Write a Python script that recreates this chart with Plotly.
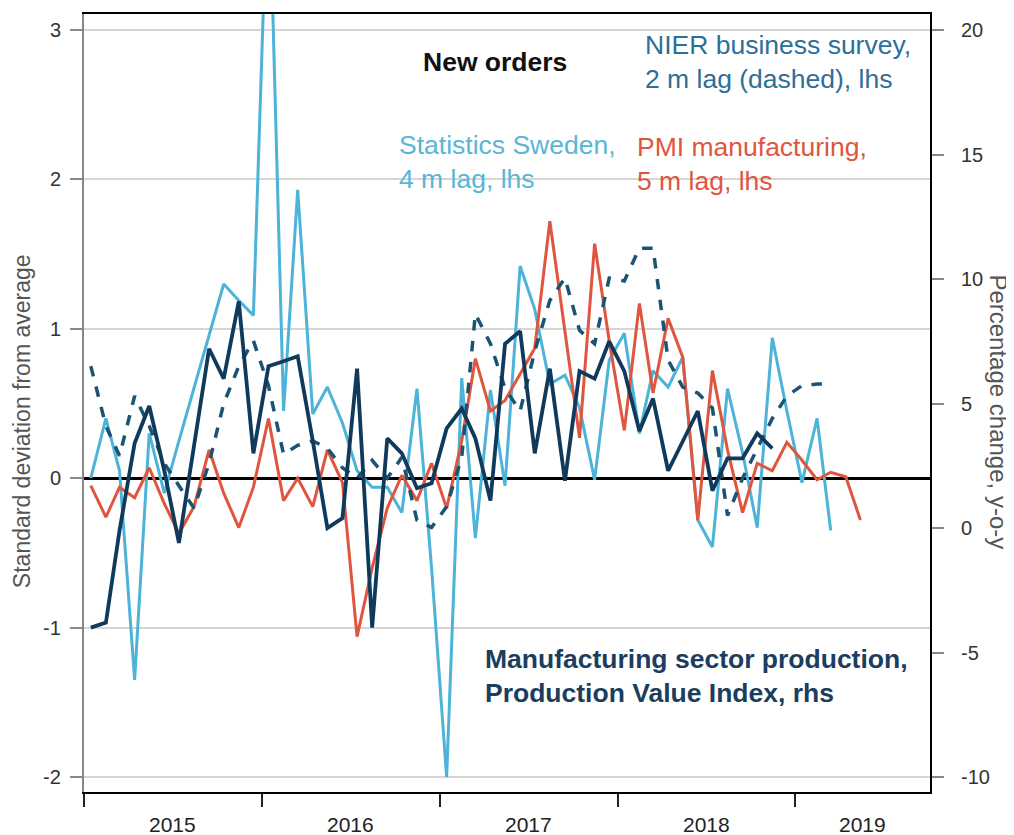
import pandas as pd
import plotly.graph_objects as go

# ---------------- data ----------------
start_month = "2015-01"
stats_sweden = [0.0, 0.4, 0.05, -1.35, 0.3, -0.1, 0.25, 0.6, 0.95, 1.3,
                1.19, 1.09, 4.2, 0.45, 1.93, 0.43, 0.61, 0.37, 0.05, -0.06,
                -0.06, -0.23, 0.6, -0.6, -2.0, 0.67, -0.4, 0.59, -0.05, 1.42,
                1.13, 0.63, 0.69, 0.47, -0.01, 0.79, 0.97, 0.3, 0.72, 0.61,
                0.81, -0.28, -0.46, 0.6, 0.17, -0.33, 0.94, 0.45, -0.03, 0.4, -0.35]
pmi = [-0.05, -0.26, -0.06, -0.13, 0.07, -0.17, -0.37, -0.19, 0.19, -0.1,
       -0.33, -0.06, 0.4, -0.15, 0.0, -0.19, 0.19, -0.03, -1.06, -0.6,
       -0.2, 0.02, -0.15, 0.1, -0.2, 0.25, 0.8, 0.45, 0.52, 0.7,
       0.87, 1.72, 1.0, 0.27, 1.57, 0.92, 0.32, 1.17, 0.57, 1.07,
       0.81, -0.28, 0.72, 0.19, -0.23, 0.1, 0.05, 0.24, 0.12, -0.01,
       0.04, 0.01, -0.28]
nier = [0.75, 0.35, 0.15, 0.55, 0.35, 0.1, -0.05, -0.2, 0.1, 0.5,
        0.75, 0.92, 0.62, 0.16, 0.22, 0.25, 0.2, 0.07, 0.0, 0.12,
        0.0, 0.14, -0.28, -0.33, -0.19, 0.14, 1.1, 0.9, 0.6, 0.45,
        0.85, 1.19, 1.34, 0.99, 0.9, 1.34, 1.32, 1.54, 1.54, 0.79,
        0.61, 0.57, 0.47, -0.25, 0.0, 0.2, 0.4, 0.55, 0.62, 0.63, 0.63]
production = [-4.0, -3.8, -0.1, 3.4, 4.9, 2.3, -0.6, 3.3, 7.2, 6.0,
              9.1, 3.0, 6.5, 6.7, 6.9, 3.5, 0.0, 0.4, 6.4, -4.0,
              3.6, 3.0, 1.6, 1.8, 4.0, 4.8, 3.6, 1.1, 7.4, 7.9,
              3.0, 6.4, 1.9, 6.3, 6.0, 7.5, 6.3, 3.9, 5.2, 2.3,
              3.5, 4.7, 1.5, 2.8, 2.8, 3.8, 3.2]
year_labels = ["2015", "2016", "2017", "2018", "2019"]
left_ticks = [-2, -1, 0, 1, 2, 3]
left_tick_text = ["-2", "-1", "0", "1", "2", "3"]
right_ticks = [-10, -5, 0, 5, 10, 15, 20]
right_tick_text = ["-10", "-5", "0", "5", "10", "15", "20"]


def months(n):
    return pd.date_range(start_month + "-01", periods=n, freq="MS") + pd.Timedelta(days=14)


C_LB = "#4db3d8"
C_RED = "#e0553e"
C_NAVY = "#0f3a5c"
C_DASH = "#1b5473"
FONT = "Liberation Sans, Arial, sans-serif"
TICK_FONT = dict(size=20, color="#333333")

fig = go.Figure()
fig.add_trace(go.Scatter(x=months(len(stats_sweden)), y=stats_sweden, mode="lines",
                         line=dict(color=C_LB, width=3), name="Statistics Sweden"))
fig.add_trace(go.Scatter(x=months(len(pmi)), y=pmi, mode="lines",
                         line=dict(color=C_RED, width=3), name="PMI"))
fig.add_trace(go.Scatter(x=months(len(nier)), y=nier, mode="lines",
                         line=dict(color=C_DASH, width=3.5, dash="dash"), name="NIER"))
fig.add_trace(go.Scatter(x=months(len(production)), y=production, mode="lines", yaxis="y2",
                         line=dict(color=C_NAVY, width=3.8), name="Production"))

x_start = pd.Timestamp("2015-01-01")
x_end = pd.Timestamp("2019-10-05")
year_starts = [pd.Timestamp(f"{y}-01-01") for y in year_labels]

left_range = [-2.1, 3.107]
right_range = [6 * left_range[0] + 2, 6 * left_range[1] + 2]

fig.update_layout(
    width=1006, height=827,
    margin=dict(l=76, r=84, t=6, b=43, autoexpand=False),
    paper_bgcolor="white", plot_bgcolor="white",
    showlegend=False,
    font=dict(family=FONT, color="#333333"),
    xaxis=dict(type="date", range=[x_start, x_end], showgrid=False,
               showline=True, linecolor="black", linewidth=2, mirror=True,
               ticks="outside", ticklen=13, tickwidth=2, tickcolor="#222222",
               tickvals=year_starts, showticklabels=False, zeroline=False),
    yaxis=dict(range=left_range, tickvals=left_ticks, showticklabels=False, showgrid=True,
               gridcolor="#d6d6d6", gridwidth=2,
               zeroline=True, zerolinecolor="black", zerolinewidth=3,
               showline=True, linecolor="#888888", linewidth=2,
               ticks="outside", ticklen=12, tickwidth=2, tickcolor="#888888"),
    yaxis2=dict(range=right_range, tickvals=right_ticks, showticklabels=False,
                overlaying="y", side="right",
                showgrid=False, zeroline=False,
                showline=True, linecolor="black", linewidth=2,
                ticks="outside", ticklen=12, tickwidth=2, tickcolor="#888888"),
)

annotations = []
# left-hand tick labels
for v, t in zip(left_ticks, left_tick_text):
    annotations.append(dict(x=-0.025, xref="paper", y=v, yref="y", text=t,
                            showarrow=False, font=TICK_FONT,
                            xanchor="right", yanchor="middle"))
# right-hand tick labels, set a little further out from the ticks
for v, t in zip(right_ticks, right_tick_text):
    annotations.append(dict(x=1.034, xref="paper", y=v, yref="y2", text=t,
                            showarrow=False, font=TICK_FONT,
                            xanchor="left", yanchor="middle"))
# year labels centred in the visible part of each year
for i, lab in enumerate(year_labels):
    a = year_starts[i]
    b = year_starts[i + 1] if i + 1 < len(year_starts) else x_end
    b = min(b, x_end)
    mid = a + (b - a) / 2
    annotations.append(dict(x=mid, xref="x", y=-0.042, yref="paper", text=lab,
                            showarrow=False, font=dict(size=21, color="#222222"),
                            xanchor="center", yanchor="middle"))

annotations += [
    dict(x=-0.073, y=0.477, xref="paper", yref="paper", text="Standard deviation from average",
         textangle=-90, showarrow=False, font=dict(size=23, color="#555555"),
         xanchor="center", yanchor="middle"),
    dict(x=1.0815, y=0.488, xref="paper", yref="paper", text="Percentage change, y-o-y",
         textangle=90, showarrow=False, font=dict(size=24, color="#555555"),
         xanchor="center", yanchor="middle"),
    dict(x=0.486, y=0.938, xref="paper", yref="paper", text="<b>New orders</b>",
         showarrow=False, font=dict(size=26.5, color="#111111"), xanchor="center", yanchor="middle"),
    dict(x=0.661, y=0.938, xref="paper", yref="paper",
         text="NIER business survey,<br>2 m lag (dashed), lhs",
         showarrow=False, align="left", font=dict(size=26.5, color="#2c6f98"),
         xanchor="left", yanchor="middle"),
    dict(x=0.370, y=0.810, xref="paper", yref="paper",
         text="Statistics Sweden,<br>4 m lag, lhs",
         showarrow=False, align="left", font=dict(size=26.5, color="#5ab5d6"),
         xanchor="left", yanchor="middle"),
    dict(x=0.651, y=0.807, xref="paper", yref="paper",
         text="PMI manufacturing,<br>5 m lag, lhs",
         showarrow=False, align="left", font=dict(size=26.5, color="#e0553e"),
         xanchor="left", yanchor="middle"),
    dict(x=0.472, y=0.149, xref="paper", yref="paper",
         text="<b>Manufacturing sector production,<br>Production Value Index, rhs</b>",
         showarrow=False, align="left", font=dict(size=26.5, color="#1b3d5e"),
         xanchor="left", yanchor="middle"),
]
fig.update_layout(annotations=annotations)

fig.write_html("out.html")
